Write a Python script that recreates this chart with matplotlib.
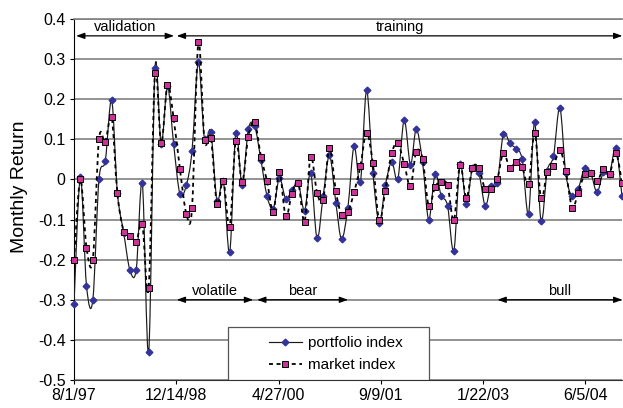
import matplotlib
matplotlib.use('Agg')
import matplotlib.pyplot as plt
import matplotlib.dates as mdates
from matplotlib.path import Path
from matplotlib.patches import PathPatch, Rectangle
from matplotlib.lines import Line2D
import numpy as np
import pandas as pd

# Monthly returns, Aug 1997 - Dec 2004
months = pd.date_range('1997-08-01', periods=89, freq='MS')

portfolio_index = [
    -0.31, 0.005, -0.265, -0.30, 0.0, 0.047, 0.198, -0.033, -0.133, -0.225,
    -0.225, -0.01, -0.43, 0.277, 0.088, 0.232, 0.088, -0.037, -0.014, 0.072,
    0.292, 0.10, 0.119, -0.053, -0.003, -0.182, 0.116, -0.014, 0.125, 0.133,
    0.048, -0.04, -0.073, 0.003, -0.048, -0.027, -0.009, -0.078, 0.017, -0.147,
    -0.042, 0.06, -0.058, -0.148, -0.07, 0.083, -0.007, 0.222, 0.017, -0.108,
    -0.015, 0.044, 0.0, 0.148, 0.037, 0.125, 0.043, -0.10, 0.0125, -0.04,
    -0.065, -0.178, 0.039, -0.061, 0.029, 0.017, -0.065, -0.017, -0.008, 0.114,
    0.09, 0.077, 0.05, -0.085, 0.142, -0.104, 0.021, 0.058, 0.179, 0.015,
    -0.042, -0.023, 0.0275, 0.017, -0.032, 0.019, 0.014, 0.079, -0.042,
]

market_index = [
    -0.20, 0.0, -0.17, -0.20, 0.10, 0.094, 0.155, -0.035, -0.13, -0.14,
    -0.155, -0.112, -0.27, 0.265, 0.09, 0.235, 0.152, 0.025, -0.085, -0.07,
    0.343, 0.098, 0.104, -0.061, -0.003, -0.118, 0.096, -0.006, 0.107, 0.143,
    0.057, -0.003, -0.08, 0.018, -0.092, -0.036, -0.008, -0.105, 0.057, -0.033,
    -0.05, 0.079, -0.029, -0.088, -0.082, -0.032, 0.033, 0.117, 0.04, -0.102,
    -0.028, 0.065, 0.09, 0.039, -0.017, 0.069, 0.052, -0.066, -0.018, -0.007,
    -0.014, -0.102, 0.036, -0.046, 0.029, 0.029, -0.025, -0.023, 0.0, 0.067,
    0.029, 0.043, 0.031, -0.0125, 0.117, -0.047, 0.018, 0.033, 0.073, 0.021,
    -0.07, -0.033, 0.0125, 0.015, -0.004, 0.025, 0.0125, 0.067, -0.008,
]

tick_dates = pd.date_range('1997-08-01', periods=6, freq='500D')
tick_labels = ['8/1/97', '12/14/98', '4/27/00', '9/9/01', '1/22/03', '6/5/04']
y_ticks = np.round(np.arange(-0.5, 0.41, 0.1), 1)

plt.rcParams['font.family'] = ['Liberation Sans', 'DejaVu Sans']
plt.rcParams['axes.unicode_minus'] = False

DASH = (0, (2.2, 2.0))


def smooth_path(x, y):
    """Bezier path through the points (like Excel's smoothed line)."""
    pts = np.column_stack([x, y])
    n = len(pts)
    verts = [pts[0]]
    codes = [Path.MOVETO]
    for i in range(n - 1):
        p0 = pts[max(i - 1, 0)]
        p1 = pts[i]
        p2 = pts[i + 1]
        p3 = pts[min(i + 2, n - 1)]
        verts += [p1 + (p2 - p0) / 6, p2 - (p3 - p1) / 6, p2]
        codes += [Path.CURVE4] * 3
    return Path(verts, codes)


def span_arrow(ax, start, end, y, label, text_y):
    """Double-headed arrow marking a period, with its label."""
    ax.annotate('', xy=(pd.Timestamp(start), y), xytext=(pd.Timestamp(end), y),
                arrowprops=dict(arrowstyle='<|-|>,head_length=0.5,head_width=0.18',
                                color='black', lw=0.9, shrinkA=0, shrinkB=0,
                                mutation_scale=10),
                annotation_clip=False, zorder=6)
    mid = pd.Timestamp(start) + (pd.Timestamp(end) - pd.Timestamp(start)) / 2
    ax.text(mid, text_y, label, ha='center', va='center', fontsize=10.5, zorder=6)


def main():
    fig = plt.figure(figsize=(6.23, 4.08), dpi=100)
    ax = fig.add_axes([0.1188, 0.0686, 0.8796, 0.8848])

    x = mdates.date2num(months)

    # portfolio: solid smoothed line with diamonds
    ax.add_patch(PathPatch(smooth_path(x, portfolio_index), facecolor='none',
                           edgecolor='#1a1a1a', lw=0.85, zorder=3))
    ax.plot(x, portfolio_index, linestyle='none', marker='D', ms=3.4,
            color='#333399', zorder=3.5, clip_on=False)

    # market: dashed smoothed line with squares
    ax.add_patch(PathPatch(smooth_path(x, market_index), facecolor='none',
                           edgecolor='black', lw=1.3, linestyle=DASH,
                           zorder=4))
    ax.plot(x, market_index, linestyle='none', marker='s', ms=3.8,
            markerfacecolor='#cc3399', markeredgecolor='black', mew=0.7,
            zorder=4.5, clip_on=False)

    ax.set_xlim(pd.Timestamp('1997-08-01'), pd.Timestamp('2004-12-01'))
    ax.set_ylim(-0.5, 0.4)
    ax.set_xticks(tick_dates)
    ax.set_xticklabels(tick_labels)
    ax.set_yticks(y_ticks)
    ax.set_yticklabels(['0' if v == 0 else f'{v:.1f}' for v in y_ticks])
    ax.tick_params(axis='both', direction='out', length=3, width=0.8,
                   labelsize=11.5, pad=3)

    ax.grid(axis='y', color='#808080', lw=1.2)
    ax.set_axisbelow(True)
    ax.spines['right'].set_visible(False)
    ax.spines['top'].set_color('#808080')
    ax.spines['top'].set_linewidth(1.2)
    ax.spines['left'].set_color('black')
    ax.spines['bottom'].set_color('#333333')

    ax.set_ylabel('Monthly Return', fontsize=14)
    ax.yaxis.set_label_coords(-0.084, 0.536)

    # period annotations
    span_arrow(ax, '1997-08-11', '1998-12-03', 0.358, 'validation', 0.38)
    span_arrow(ax, '1998-12-16', '2004-12-03', 0.358, 'training', 0.38)
    span_arrow(ax, '1998-12-16', '1999-12-25', -0.30, 'volatile', -0.277)
    span_arrow(ax, '2000-01-13', '2001-04-02', -0.30, 'bear', -0.277)
    span_arrow(ax, '2003-04-02', '2004-12-03', -0.30, 'bull', -0.277)

    # legend box sitting on the x axis
    ax.add_patch(Rectangle((0.281, 0.0), 0.367, 0.147, transform=ax.transAxes,
                           facecolor='white', edgecolor='#555555', lw=0.9,
                           zorder=7))
    handles = [
        Line2D([], [], color='#1a1a1a', lw=0.85, marker='D', ms=3.4,
               markerfacecolor='#333399', markeredgecolor='#333399'),
        Line2D([], [], color='black', lw=1.3, linestyle=DASH,
               marker='s', ms=3.8, markerfacecolor='#cc3399',
               markeredgecolor='black', mew=0.7),
    ]
    leg = ax.legend(handles, ['portfolio index', 'market index'],
                    loc='center left', bbox_to_anchor=(0.355, 0.0715),
                    frameon=False, fontsize=11, handlelength=2.2,
                    handletextpad=0.4, labelspacing=0.55, borderpad=0,
                    borderaxespad=0)
    leg.set_zorder(8)

    fig.savefig('out.png', dpi=100)


if __name__ == "__main__":
    main()
